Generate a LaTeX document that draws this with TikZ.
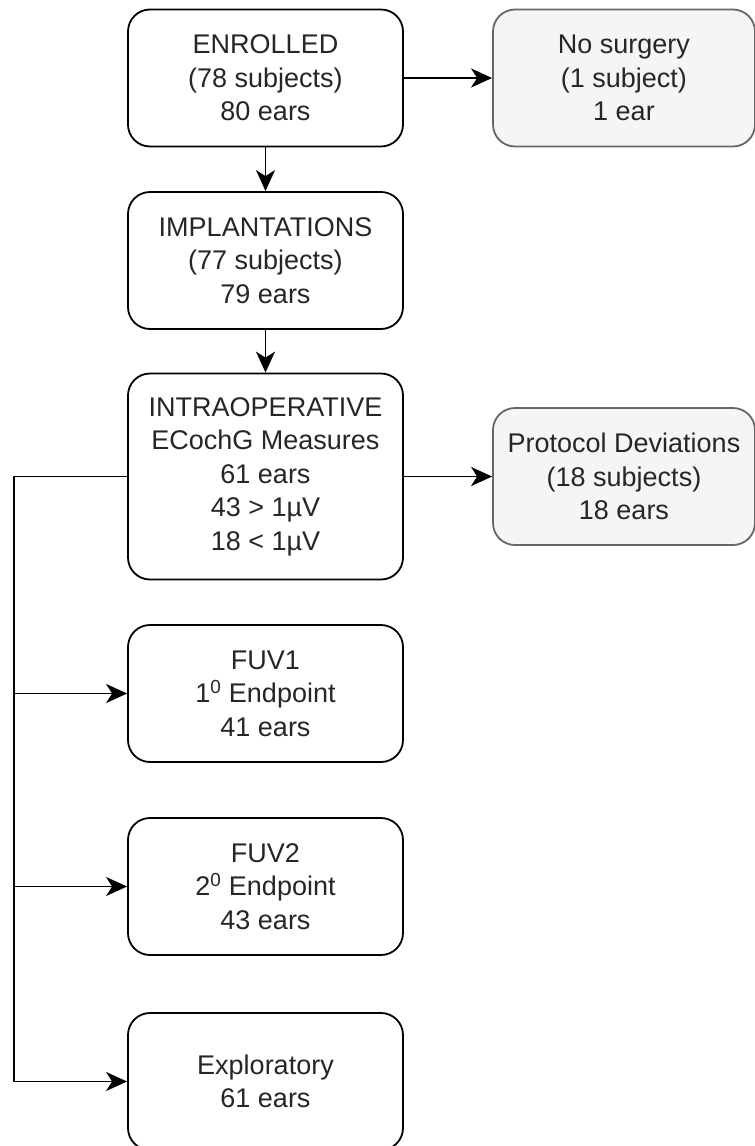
\documentclass[tikz,border=0pt]{standalone}
\usepackage{fontspec}
\setmainfont{Liberation Sans}
\usetikzlibrary{arrows.meta}
\definecolor{boxgrey}{HTML}{F5F5F5}
\definecolor{linegrey}{HTML}{666666}
\begin{document}
\begin{tikzpicture}[x=1pt, y=-1pt,
  box/.style={draw, line width=1.8pt, rounded corners=22pt, fill=white,
    minimum width=275pt, minimum height=137pt, inner sep=0pt, align=center,
    text=black!85, font=\fontsize{27}{33.5}\selectfont},
  greybox/.style={box, draw=linegrey, fill=boxgrey, minimum width=262pt},
  link/.style={line width=1.8pt, -{Stealth[length=21pt, width=19pt, inset=6pt]}}]
\useasboundingbox (0, 0) rectangle (755, 1146);

\node [box] (enrolled) at (265.5, 78) {ENROLLED\\(78 subjects)\\80 ears};
\node [greybox] (nosurgery) at (624, 78) {No surgery\\(1 subject)\\1 ear};
\node [box] (implant) at (265.5, 260.5) {IMPLANTATIONS\\(77 subjects)\\79 ears};
\node [box, minimum height=206pt] (intraop) at (265.5, 476.5)
  {INTRAOPERATIVE\\ECochG Measures\\61 ears\\43 > 1µV\\18 < 1µV};
\node [greybox] (deviation) at (624, 476.5) {Protocol Deviations\\(18 subjects)\\18 ears};
\node [box] (fuvone) at (265.5, 693.5) {FUV1\\1\textsuperscript{0} Endpoint\\41 ears};
\node [box] (fuvtwo) at (265.5, 886.5) {FUV2\\2\textsuperscript{0} Endpoint\\43 ears};
\node [box] (explor) at (265.5, 1081.5) {Exploratory\\61 ears};

\coordinate (trunk) at (14, 476.5);

\draw [link] (enrolled) -- (nosurgery);
\draw [link] (enrolled) -- (implant);
\draw [link] (implant) -- (intraop);
\draw [link] (intraop) -- (deviation);
\draw [link] (intraop.west) -- (trunk) |- (explor.west);
\draw [link] (trunk |- fuvone.west) -- (fuvone.west);
\draw [link] (trunk |- fuvtwo.west) -- (fuvtwo.west);
\end{tikzpicture}
\end{document}
